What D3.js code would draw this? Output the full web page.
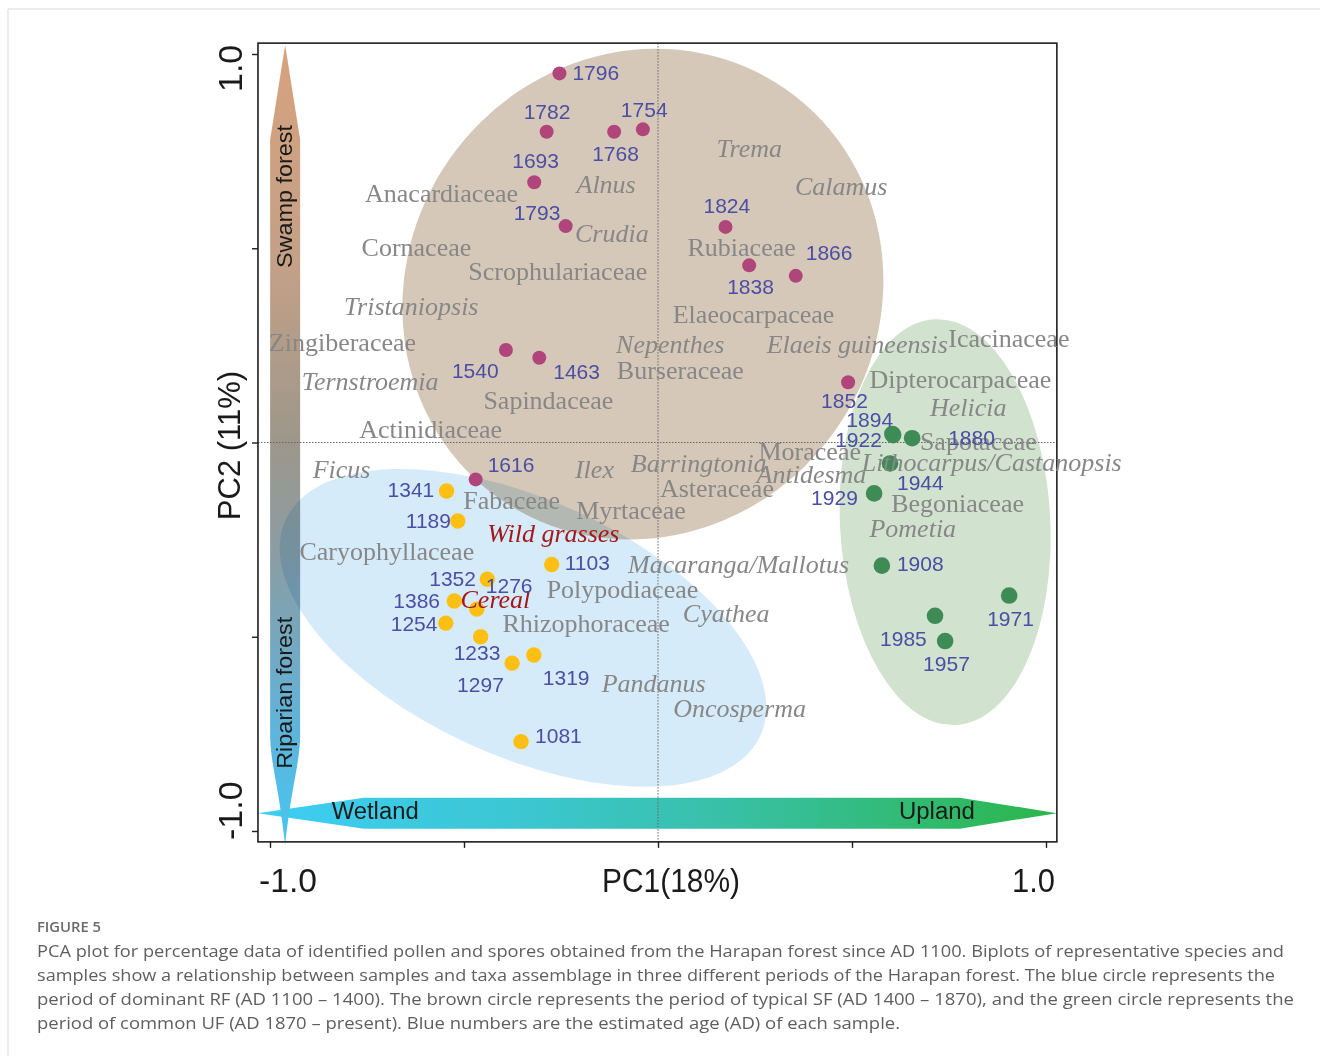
<!DOCTYPE html>
<html>
<head>
<meta charset="utf-8">
<script src="https://cdn.jsdelivr.net/npm/d3@7"></script>
<style>
  html, body { margin: 0; padding: 0; background: #fff; }
  svg { display: block; }
</style>
</head>
<body>
<svg id="chart" width="1320" height="1056"></svg>
<script>
// ---- Sample scores: [age AD, PC1, PC2] ----
const swampSamples = [
  ["1796", -0.254, 0.950], ["1782", -0.287, 0.800], ["1768", -0.113, 0.800],
  ["1754", -0.039, 0.806], ["1693", -0.319, 0.670], ["1793", -0.238, 0.557],
  ["1540", -0.392, 0.238], ["1463", -0.306, 0.218], ["1824", 0.174, 0.555],
  ["1838", 0.235, 0.456], ["1866", 0.355, 0.429], ["1852", 0.490, 0.155],
  ["1616", -0.470, -0.095]
];
const riparianSamples = [
  ["1341", -0.545, -0.125], ["1189", -0.516, -0.202], ["1103", -0.274, -0.314],
  ["1352", -0.440, -0.352], ["1386", -0.525, -0.408], ["1276", -0.467, -0.429],
  ["1254", -0.547, -0.465], ["1233", -0.457, -0.500], ["1297", -0.376, -0.568],
  ["1319", -0.320, -0.547], ["1081", -0.353, -0.770]
];
const uplandSamples = [
  ["1894", 0.604, 0.022], ["1922", 0.606, 0.019], ["1880", 0.655, 0.011],
  ["1944", 0.598, -0.054], ["1929", 0.557, -0.131], ["1908", 0.577, -0.317],
  ["1971", 0.905, -0.394], ["1985", 0.714, -0.446], ["1957", 0.740, -0.511]
];

// ---- Taxa loadings: [name, PC1, PC2] ----
const familyTaxa = [
  ["Anacardiaceae", -0.755, 0.620], ["Cornaceae", -0.764, 0.481],
  ["Scrophulariaceae", -0.489, 0.418], ["Zingiberaceae", -1.003, 0.236],
  ["Sapindaceae", -0.450, 0.086], ["Actinidiaceae", -0.770, 0.011],
  ["Burseraceae", -0.106, 0.163], ["Rubiaceae", 0.076, 0.481],
  ["Elaeocarpaceae", 0.038, 0.307], ["Icacinaceae", 0.748, 0.247],
  ["Dipterocarpaceae", 0.545, 0.141], ["Sapotaceae", 0.675, -0.019],
  ["Begoniaceae", 0.601, -0.180], ["Moraceae", 0.259, -0.045],
  ["Asteraceae", 0.005, -0.140], ["Myrtaceae", -0.211, -0.198],
  ["Polypodiaceae", -0.287, -0.401], ["Rhizophoraceae", -0.401, -0.487],
  ["Fabaceae", -0.502, -0.172], ["Caryophyllaceae", -0.924, -0.302]
];
const genusTaxa = [
  ["Tristaniopsis", -0.809, 0.328], ["Ternstroemia", -0.918, 0.135],
  ["Alnus", -0.210, 0.641], ["Crudia", -0.214, 0.515],
  ["Nepenthes", -0.108, 0.231], ["Trema", 0.151, 0.736],
  ["Calamus", 0.353, 0.637], ["Elaeis guineensis", 0.280, 0.230],
  ["Helicia", 0.701, 0.068], ["Lithocarpus/Castanopsis", 0.525, -0.073],
  ["Pometia", 0.545, -0.242], ["Antidesma", 0.254, -0.105],
  ["Barringtonia", -0.070, -0.075], ["Ilex", -0.214, -0.092],
  ["Macaranga/Mallotus", -0.077, -0.337], ["Cyathea", 0.064, -0.461],
  ["Pandanus", -0.145, -0.641], ["Oncosperma", 0.039, -0.706],
  ["Ficus", -0.890, -0.092]
];
const grassTaxa = [
  ["Wild grasses", -0.440, -0.255], ["Cereal", -0.509, -0.427]
];

// ---- Period ellipses in PC units ----
const periodNames = ["SF", "RF", "UF"];
const ellipseCentre = [[-0.039, 0.382], [-0.348, -0.477], [0.740, -0.205]];
const ellipseRadii = [[0.644, 0.607], [0.672, 0.330], [0.271, 0.523]];
const ellipseAngle = [-55, 24.4, -3];

// ---- Axis ----
const axisTicks = [-1, -0.5, 0, 0.5, 1];
const tickLabels = ["-1.0", "1.0"];
const axisTitles = ["PC1(18%)", "PC2 (11%)"];

// ---- Label placement for sample numbers (px from the dot) ----
const sampleLabelOffset = {
  "1796": [13, 7], "1782": [-23, -13], "1768": [-22, 29], "1754": [-22, -12],
  "1693": [-22, -14], "1793": [-52, -6], "1540": [-54, 28], "1463": [14, 21],
  "1824": [-22, -14], "1838": [-22, 29], "1866": [10, -16], "1852": [-27, 26],
  "1616": [12, -7],
  "1341": [-59, 6], "1189": [-52, 7], "1103": [13, 6], "1352": [-58, 7],
  "1386": [-61, 7], "1276": [9, -16], "1254": [-55, 8], "1233": [-27, 23],
  "1297": [-55, 29], "1319": [9, 30], "1081": [14, 1],
  "1894": [-46, -7], "1922": [-58, 12], "1880": [36, 7], "1944": [7, 27],
  "1929": [-63, 12], "1908": [15, 5], "1971": [-22, 30], "1985": [-55, 30],
  "1957": [-22, 30]
};

const captionHead = "FIGURE 5";
const captionLines = [
  "PCA plot for percentage data of identified pollen and spores obtained from the Harapan forest since AD 1100. Biplots of representative species and",
  "samples show a relationship between samples and taxa assemblage in three different periods of the Harapan forest. The blue circle represents the",
  "period of dominant RF (AD 1100 \u2013 1400). The brown circle represents the period of typical SF (AD 1400 \u2013 1870), and the green circle represents the",
  "period of common UF (AD 1870 \u2013 present). Blue numbers are the estimated age (AD) of each sample."
];
const captionWidths = [1247, 1238, 1257, 863];

// ---------------------------------------------------------------
const svg = d3.select("#chart");
const x = d3.scaleLinear().domain([-1, 1]).range([270, 1046]);
const y = d3.scaleLinear().domain([-1, 1]).range([831, 54]);
const frameX = [x(-1.031), x(1.028)];
const frameY = [y(1.028), y(-1.028)];

const SANS = "'Liberation Sans', Arial, Helvetica, sans-serif";
const SERIF = "'Liberation Serif', 'Times New Roman', serif";

// page border
svg.append("path")
  .attr("d", "M8,1056 L8,9 L1320,9")
  .attr("fill", "none").attr("stroke", "#d9d9d9").attr("stroke-width", 1);

// ---- gradients ----
const defs = svg.append("defs");
const vGrad = defs.append("linearGradient").attr("id", "vGrad")
  .attr("gradientUnits", "userSpaceOnUse")
  .attr("x1", 0).attr("x2", 0).attr("y1", y(1.023)).attr("y2", y(-1.036));
[[0, "#d7a27d"], [0.28, "#c3a087"], [0.5, "#9c978b"], [0.64, "#8a9da4"],
 [0.84, "#62b2d8"], [1, "#45c6f2"]].forEach(s =>
  vGrad.append("stop").attr("offset", s[0]).attr("stop-color", s[1]));

const hGrad = defs.append("linearGradient").attr("id", "hGrad")
  .attr("gradientUnits", "userSpaceOnUse")
  .attr("x1", frameX[0]).attr("x2", frameX[1]).attr("y1", 0).attr("y2", 0);
[[0, "#3ecdf5"], [0.35, "#3bc6cf"], [0.6, "#38c0a4"], [1, "#2bb64a"]].forEach(s =>
  hGrad.append("stop").attr("offset", s[0]).attr("stop-color", s[1]));

// ---- gradient arrows (Wetland–Upland, Riparian–Swamp) ----
const hy = y(-0.954), hh = 15.5;
const hL = x(-1.031), hLs = x(-0.758), hRs = x(0.778), hR = x(1.028);
svg.append("path")
  .attr("d", `M${hL},${hy} L${hLs},${hy - hh} L${hRs},${hy - hh} L${hR},${hy} L${hRs},${hy + hh} L${hLs},${hy + hh} Z`)
  .attr("fill", "url(#hGrad)");

const vx = x(-0.961), vw = 15;
const vTop = y(1.023), vTs = y(0.779), vBs = y(-0.758), vBot = y(-1.036);
svg.append("path")
  .attr("d", `M${vx},${vTop} L${vx + vw},${vTs} L${vx + vw},${vBs}
    C${vx + vw - 1},${vBs + 30} ${vx + 7},${vBs + 45} ${vx},${vBot}
    C${vx - 7},${vBs + 45} ${vx - vw + 1},${vBs + 30} ${vx - vw},${vBs}
    L${vx - vw},${vTs} Z`)
  .attr("fill", "url(#vGrad)");

// ---- period ellipses ----
const ellipseFill = { SF: "#d6c8b8", RF: "#d6ebf9", UF: "#d1e2ce" };
periodNames.forEach((p, i) => {
  const cx = x(ellipseCentre[i][0]), cy = y(ellipseCentre[i][1]);
  svg.append("ellipse")
    .attr("cx", cx).attr("cy", cy)
    .attr("rx", x(ellipseCentre[i][0] + ellipseRadii[i][0]) - cx)
    .attr("ry", cy - y(ellipseCentre[i][1] + ellipseRadii[i][1]))
    .attr("transform", `rotate(${ellipseAngle[i]},${cx},${cy})`)
    .attr("fill", ellipseFill[p])
    .style("mix-blend-mode", "multiply");
});

// ---- zero lines ----
svg.append("line")
  .attr("x1", x(0)).attr("x2", x(0)).attr("y1", frameY[0]).attr("y2", frameY[1])
  .attr("stroke", "#666").attr("stroke-width", 1).attr("stroke-dasharray", "1.5,1.5");
svg.append("line")
  .attr("y1", y(0)).attr("y2", y(0)).attr("x1", frameX[0]).attr("x2", frameX[1])
  .attr("stroke", "#666").attr("stroke-width", 1).attr("stroke-dasharray", "1.5,1.5");

// ---- frame and ticks ----
svg.append("rect")
  .attr("x", frameX[0]).attr("y", frameY[0])
  .attr("width", frameX[1] - frameX[0]).attr("height", frameY[1] - frameY[0])
  .attr("fill", "none").attr("stroke", "#1e1e1e").attr("stroke-width", 1.6);

const xAxis = svg.append("g").attr("transform", `translate(0,${frameY[1]})`)
  .call(d3.axisBottom(x).tickValues(axisTicks).tickSize(6).tickFormat(""));
const yAxis = svg.append("g").attr("transform", `translate(${frameX[0]},0)`)
  .call(d3.axisLeft(y).tickValues(axisTicks).tickSize(6).tickFormat(""));
[xAxis, yAxis].forEach(a => {
  a.select(".domain").remove();
  a.selectAll("line").attr("stroke", "#1e1e1e").attr("stroke-width", 1.4);
});

// ---- sample points ----
const groups = [
  { data: swampSamples, color: "#b0457c", r: 7 },
  { data: riparianSamples, color: "#fdc012", r: 7.7 },
  { data: uplandSamples, color: "#3f8b56", r: 8.3 }
];
groups.forEach(g => {
  svg.append("g").selectAll("circle").data(g.data).join("circle")
    .attr("cx", d => x(d[1])).attr("cy", d => y(d[2]))
    .attr("r", g.r).attr("fill", g.color);
});

// ---- taxa labels ----
function taxa(list, italic, color) {
  svg.append("g").selectAll("text").data(list).join("text")
    .attr("x", d => x(d[1])).attr("y", d => y(d[2]))
    .attr("font-family", SERIF).attr("font-size", 26)
    .attr("font-style", italic ? "italic" : "normal")
    .attr("fill", color).text(d => d[0]);
}
taxa(familyTaxa, false, "#878787");
taxa(genusTaxa, true, "#878787");
taxa(grassTaxa, true, "#a3181c");

// ---- sample age labels ----
groups.forEach(g => {
  svg.append("g").selectAll("text").data(g.data).join("text")
    .attr("x", d => x(d[1]) + sampleLabelOffset[d[0]][0])
    .attr("y", d => y(d[2]) + sampleLabelOffset[d[0]][1])
    .attr("font-family", SANS).attr("font-size", 21)
    .attr("fill", "#4a4ea5").text(d => d[0]);
});

// ---- arrow captions ----
const arrowFont = "'Liberation Sans Narrow', 'Liberation Sans', Arial, sans-serif";
svg.append("text").attr("transform", `translate(${vx + 7},${y(0.449)}) rotate(-90)`)
  .attr("font-family", arrowFont).attr("font-size", 22).attr("fill", "#1a1a1a")
  .attr("textLength", 143).attr("lengthAdjust", "spacingAndGlyphs").text("Swamp forest");
svg.append("text").attr("transform", `translate(${vx + 7},${y(-0.840)}) rotate(-90)`)
  .attr("font-family", arrowFont).attr("font-size", 22).attr("fill", "#1a1a1a")
  .attr("textLength", 152).attr("lengthAdjust", "spacingAndGlyphs").text("Riparian forest");
svg.append("text").attr("x", x(-0.841)).attr("y", hy + 6)
  .attr("font-family", arrowFont).attr("font-size", 23).attr("fill", "#1a1a1a")
  .attr("textLength", 87).attr("lengthAdjust", "spacingAndGlyphs").text("Wetland");
svg.append("text").attr("x", x(0.621)).attr("y", hy + 6)
  .attr("font-family", arrowFont).attr("font-size", 23).attr("fill", "#1a1a1a")
  .attr("textLength", 76).attr("lengthAdjust", "spacingAndGlyphs").text("Upland");

// ---- axis tick labels and titles ----
const narrow = "'Liberation Sans Narrow', 'Liberation Sans', Arial, sans-serif";
svg.append("text").attr("x", x(-1) - 11).attr("y", 892)
  .attr("font-family", narrow).attr("font-size", 34).attr("fill", "#1a1a1a")
  .attr("textLength", 58).attr("lengthAdjust", "spacingAndGlyphs").text(tickLabels[0]);
svg.append("text").attr("x", x(1) - 34).attr("y", 892)
  .attr("font-family", narrow).attr("font-size", 34).attr("fill", "#1a1a1a")
  .attr("textLength", 43).attr("lengthAdjust", "spacingAndGlyphs").text(tickLabels[1]);
svg.append("text").attr("x", x(0) - 56).attr("y", 892)
  .attr("font-family", narrow).attr("font-size", 34).attr("fill", "#1a1a1a")
  .attr("textLength", 138).attr("lengthAdjust", "spacingAndGlyphs").text(axisTitles[0]);

svg.append("text").attr("transform", `translate(242,${y(1) + 38}) rotate(-90)`)
  .attr("font-family", SANS).attr("font-size", 34).attr("fill", "#1a1a1a").text(tickLabels[1]);
svg.append("text").attr("transform", `translate(242,${y(-1) + 9}) rotate(-90)`)
  .attr("font-family", SANS).attr("font-size", 34).attr("fill", "#1a1a1a").text(tickLabels[0]);
svg.append("text").attr("transform", `translate(240,${y(0) + 3}) rotate(-90)`)
  .attr("text-anchor", "middle")
  .attr("font-family", SANS).attr("font-size", 31).attr("fill", "#1a1a1a").text(axisTitles[1]);

// ---- caption ----
svg.append("text").attr("x", 37).attr("y", 932)
  .attr("font-family", "'Open Sans', 'Noto Sans', sans-serif").attr("font-size", 14)
  .attr("font-weight", 600).attr("fill", "#6a6a6a")
  .attr("textLength", 64).attr("lengthAdjust", "spacingAndGlyphs").text(captionHead);
captionLines.forEach((line, i) => {
  svg.append("text").attr("x", 37).attr("y", 957 + i * 24)
    .attr("font-family", "'Open Sans', 'Noto Sans', sans-serif").attr("font-size", 17)
    .attr("fill", "#5e5e5e")
    .attr("textLength", captionWidths[i]).attr("lengthAdjust", "spacingAndGlyphs")
    .text(line);
});
</script>
</body>
</html>
